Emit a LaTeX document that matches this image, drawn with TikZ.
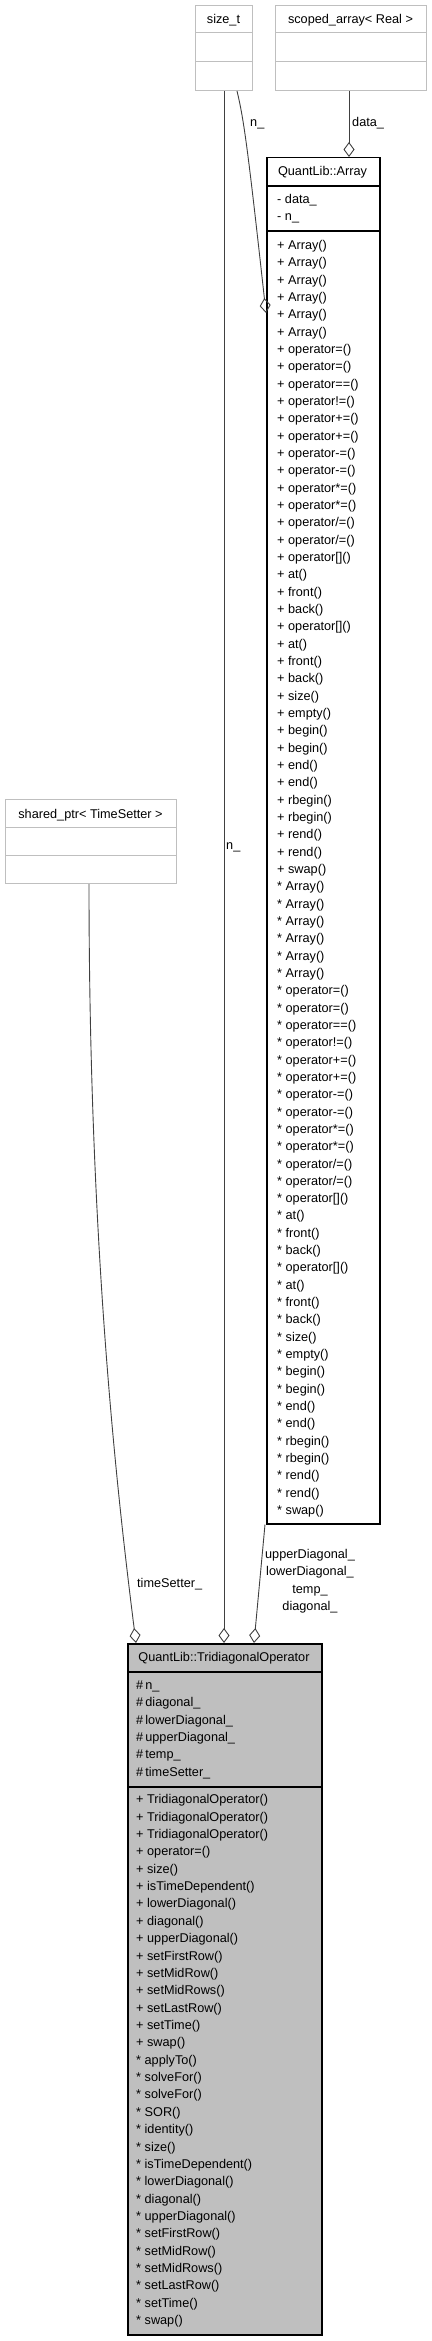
\documentclass[tikz,border=0pt]{standalone}
\usepackage{fontspec}
\setmainfont{Liberation Sans}
\usetikzlibrary{arrows.meta}

\definecolor{boxgray}{RGB}{191,191,191}
\definecolor{edgegray}{RGB}{64,64,64}
\definecolor{ownerfill}{RGB}{191,191,191}

\newcommand\umlfont{\fontsize{12.7}{15}\selectfont}

\tikzset{
	extbox/.style={draw=boxgray, line width=1pt, fill=white, anchor=north west, inner sep=0pt},
	classbox/.style={draw=black, line width=1.5pt, fill=white, anchor=north west, inner sep=0pt},
	classtitle/.style={font=\umlfont, inner sep=0pt, anchor=base},
	member/.style={font=\umlfont, inner sep=0pt, anchor=base west},
	rolelabel/.style={font=\umlfont, inner sep=0pt, anchor=base west},
	assoc/.style={draw=edgegray, line width=0.9pt, -{Diamond[open, length=15pt, width=11pt]}},
}

\begin{document}
\begin{tikzpicture}[x=1pt, y=-1pt]
		
		\useasboundingbox (0,0) rectangle (431,2341);
		
		% outside classes
		\node[extbox, minimum width=57pt, minimum height=85pt] (sizet) at (195,5) {};
		\draw[boxgray, line width=1pt] ([yshift=-28pt]sizet.north west) -- ([yshift=-28pt]sizet.north east);
		\draw[boxgray, line width=1pt] ([yshift=-57pt]sizet.north west) -- ([yshift=-57pt]sizet.north east);
		\node[classtitle] (sizetT) at (223.5,24) {size\_t};
		
		\node[extbox, minimum width=151pt, minimum height=85pt] (scoped) at (275,5) {};
		\draw[boxgray, line width=1pt] ([yshift=-28pt]scoped.north west) -- ([yshift=-28pt]scoped.north east);
		\draw[boxgray, line width=1pt] ([yshift=-57pt]scoped.north west) -- ([yshift=-57pt]scoped.north east);
		\node[classtitle] (scopedT) at (350.5,23.5) {scoped\_array< Real >};
		
		\node[extbox, minimum width=171pt, minimum height=84pt] (shptr) at (5,799) {};
		\draw[boxgray, line width=1pt] ([yshift=-28pt]shptr.north west) -- ([yshift=-28pt]shptr.north east);
		\draw[boxgray, line width=1pt] ([yshift=-56pt]shptr.north west) -- ([yshift=-56pt]shptr.north east);
		\node[classtitle] (shptrT) at (90.5,818) {shared\_ptr< TimeSetter >};
		
		% QuantLib::Array
		\node[classbox, minimum width=113pt, minimum height=1366pt] (array) at (266,157) {};
		\draw[line width=1.5pt] ([yshift=-29pt]array.north west) -- ([yshift=-29pt]array.north east);
		\draw[line width=1.5pt] ([yshift=-74pt]array.north west) -- ([yshift=-74pt]array.north east);
		\node[classtitle] (arrayT) at (322.5,176) {QuantLib::Array};
		\node[member] (arrayA0) at (277,203.5) {- data\_};
		\node[member] (arrayA1) at (277,220.8) {- n\_};
		\foreach \p [count=\j from 0] in {+,*}
			\foreach \m [count=\i from 0] in {Array(),Array(),Array(),Array(),Array(),Array(),
				operator=(),operator=(),operator==(),operator!=(),operator+=(),operator+=(),
				operator-=(),operator-=(),operator*=(),operator*=(),operator/=(),operator/=(),
				operator[](),at(),front(),back(),operator[](),at(),front(),back(),
				size(),empty(),begin(),begin(),end(),end(),rbegin(),rbegin(),rend(),rend(),swap()}
				\node[member] (arrayM\j-\i) at (277,{249.5+17.33*(37*\j+\i)}) {\p\ \m};
		
		% QuantLib::TridiagonalOperator
		\node[classbox, fill=ownerfill, minimum width=194pt, minimum height=691pt] (tridiag) at (127,1643) {};
		\draw[line width=1.5pt] ([yshift=-29pt]tridiag.north west) -- ([yshift=-29pt]tridiag.north east);
		\draw[line width=1.5pt] ([yshift=-144pt]tridiag.north west) -- ([yshift=-144pt]tridiag.north east);
		\node[classtitle] (tridiagT) at (224,1661) {QuantLib::TridiagonalOperator};
		\foreach \m [count=\i from 0] in {n\_,diagonal\_,lowerDiagonal\_,upperDiagonal\_,temp\_,timeSetter\_}
			\node[member] (tridiagA\i) at (136,{1689.5+17.33*\i}) {\#\,\m};
		\foreach \m [count=\i from 0] in {+ TridiagonalOperator(),+ TridiagonalOperator(),+ TridiagonalOperator(),
			+ operator=(),+ size(),+ isTimeDependent(),+ lowerDiagonal(),+ diagonal(),+ upperDiagonal(),
			+ setFirstRow(),+ setMidRow(),+ setMidRows(),+ setLastRow(),+ setTime(),+ swap(),
			* applyTo(),* solveFor(),* solveFor(),* SOR(),* identity(),* size(),* isTimeDependent(),
			* lowerDiagonal(),* diagonal(),* upperDiagonal(),* setFirstRow(),* setMidRow(),
			* setMidRows(),* setLastRow(),* setTime(),* swap()}
			\node[member] (tridiagM\i) at (136,{1803.8+17.36*\i}) {\m};
		
		% connector ends
		\coordinate (sizetA) at ([xshift=42pt]sizet.south west);
		\coordinate (sizetB) at ([xshift=29pt]sizet.south west);
		\coordinate (scopedA) at ([xshift=74pt]scoped.south west);
		\coordinate (shptrA) at ([xshift=84pt]shptr.south west);
		\coordinate (arrayB) at ([xshift=-1pt]array.south west);
		\coordinate (arrayN) at ([yshift=-156pt]array.north west);
		\coordinate (arrayD) at ([xshift=83pt]array.north west);
		\coordinate (tridiagS) at ([xshift=9pt]tridiag.north west);
		\coordinate (tridiagN) at ([xshift=97pt]tridiag.north west);
		\coordinate (tridiagV) at ([xshift=127pt]tridiag.north west);
		
		% associations
		\draw[assoc] (scopedA) -- (arrayD);
		\draw[assoc] (sizetA) .. controls (244,120) and (248,150) .. (arrayN);
		\draw[assoc] (sizetB) -- (tridiagN);
		\draw[assoc] (shptrA) .. controls (89,1250) and (118,1500) .. (tridiagS);
		\draw[assoc] (arrayB) -- (tridiagV);
		
		% role names
		\node[rolelabel] (lblData) at (352,127) {data\_};
		\node[rolelabel] (lblN1) at (250,127) {n\_};
		\node[rolelabel] (lblN2) at (226,849) {n\_};
		\node[rolelabel] (lblTime) at (137,1587) {timeSetter\_};
		\node[font=\umlfont, inner sep=0pt, align=center, anchor=north] (lblDiag) at (310,1549) {upperDiagonal\_\\[2.3pt]lowerDiagonal\_\\[2.3pt]temp\_\\[2.3pt]diagonal\_};
		
	\end{tikzpicture}
\end{document}
